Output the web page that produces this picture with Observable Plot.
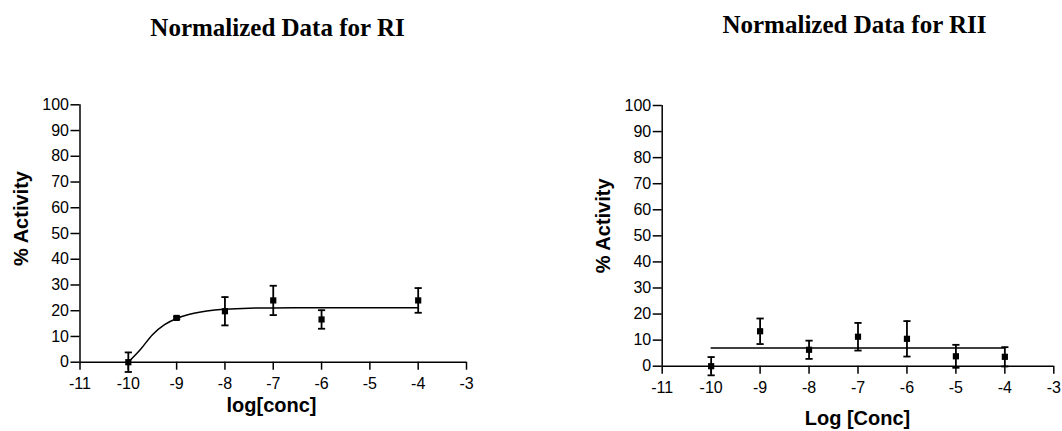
<!DOCTYPE html>
<html><head><meta charset="utf-8">
<script src="https://cdn.jsdelivr.net/npm/d3@7"></script>
<script src="https://cdn.jsdelivr.net/npm/@observablehq/plot@0.6"></script>
<style>
body{margin:0;background:#fff;}
#wrap{position:relative;width:1062px;height:431px;background:#fff;}
#wrap svg{position:absolute;top:0;}
</style></head><body><div id="wrap"></div>
<script>
// ---- data ----
const xTicks = [-11, -10, -9, -8, -7, -6, -5, -4, -3];
const yTicks = [0, 10, 20, 30, 40, 50, 60, 70, 80, 90, 100];

const concRI = [-10, -9, -8, -7, -6, -4];
const actRI  = [0, 17.2, 19.8, 24.0, 16.6, 24.0];
const errRI  = [3.8, 0.5, 5.5, 5.7, 3.6, 4.8];
const fitXRI = [-10, -9.75, -9.5, -9.25, -9, -8.75, -8.5, -8.25, -8, -7.5, -7, -6, -5, -4];
const fitYRI = [0, 4.9, 10.7, 14.6, 17.0, 18.5, 19.5, 20.2, 20.6, 21.0, 21.1, 21.2, 21.2, 21.2];

const concRII = [-10, -9, -8, -7, -6, -5, -4];
const actRII  = [0, 13.4, 6.3, 11.3, 10.5, 3.8, 3.6];
const errRII  = [3.5, 4.9, 3.5, 5.3, 6.8, 4.4, 3.7];
const fitXRII = [-10, -4];
const fitYRII = [7.0, 7.0];

const titles = ["Normalized Data for RI", "Normalized Data for RII"];
const xLabels = ["log[conc]", "Log [Conc]"];
const yLabel = "% Activity";

// horizontal cap symbol for error bars
const capSymbol = {draw(ctx, size) { const w = Math.sqrt(size / Math.PI); ctx.moveTo(-w, 0); ctx.lineTo(w, 0); }};

function panel(o) {
  const pts = o.conc.map((c, i) => ({x: c, y: o.act[i], lo: o.act[i] - o.err[i], hi: o.act[i] + o.err[i]}));
  const fit = o.fitX.map((x, i) => ({x, y: o.fitY[i]}));
  const svg = Plot.plot({
    width: 531, height: 431,
    marginLeft: o.ml, marginRight: o.mr, marginTop: o.mt, marginBottom: o.mb,
    style: {fontFamily: "'Liberation Sans', Arial, sans-serif", fontSize: "16px", color: "black", background: "transparent", overflow: "visible"},
    x: {domain: [-11, -3]},
    y: {domain: [0, 100]},
    marks: [
      Plot.axisX({ticks: xTicks, tickSize: 8, tickPadding: 7, tickFormat: d => `${d}`, label: null, strokeWidth: 1.5, fontSize: 16}),
      Plot.axisY({ticks: yTicks, tickSize: 9, tickPadding: 2, tickFormat: d => `${d}`, label: null, strokeWidth: 1.5, fontSize: 16}),
      Plot.ruleY([0], {stroke: "black", strokeWidth: 1.5}),
      Plot.ruleX([-11], {stroke: "black", strokeWidth: 1.5}),
      Plot.line(fit, {x: "x", y: "y", curve: "monotone-x", stroke: "black", strokeWidth: 1.5}),
      Plot.ruleX(pts, {x: "x", y1: "lo", y2: "hi", stroke: "black", strokeWidth: 1.8}),
      Plot.dot(pts, {x: "x", y: "lo", symbol: capSymbol, r: 3.6, stroke: "black", strokeWidth: 1.8, fill: "none"}),
      Plot.dot(pts, {x: "x", y: "hi", symbol: capSymbol, r: 3.6, stroke: "black", strokeWidth: 1.8, fill: "none"}),
      Plot.dot(pts, {x: "x", y: "y", symbol: "square", r: 3.5, fill: "black", stroke: "none"}),
      Plot.text([o.title], {text: d => d, frameAnchor: "top", dx: o.tdx, dy: o.tdy, lineAnchor: "bottom", textAnchor: "middle",
        fontFamily: "'Liberation Serif', 'Times New Roman', serif", fontWeight: "bold", fontSize: 25, fill: "black"}),
      Plot.text([o.xLabel], {text: d => d, frameAnchor: "bottom", dx: o.xdx, dy: o.xdy, lineAnchor: "bottom", textAnchor: "middle",
        fontWeight: "bold", fontSize: 20, fill: "black"}),
      Plot.text([yLabel], {text: d => d, frameAnchor: "left", dx: o.ydx, dy: o.ydy, rotate: -90, lineAnchor: "bottom", textAnchor: "middle",
        fontWeight: "bold", fontSize: 20, fill: "black"})
    ]
  });
  svg.style.left = o.left + "px";
  return svg;
}

const wrap = document.getElementById("wrap");
wrap.appendChild(panel({
  left: 0, ml: 79.5, mr: 65, mt: 104.3, mb: 69.3,
  conc: concRI, act: actRI, err: errRI, fitX: fitXRI, fitY: fitYRI,
  title: titles[0], xLabel: xLabels[0],
  tdx: 4.25, tdy: -69.3, xdx: -1.75, xdy: 50, ydx: -52.5, ydy: -15
}));
wrap.appendChild(panel({
  left: 531, ml: 130.7, mr: 8.7, mt: 105, mb: 65.3,
  conc: concRII, act: actRII, err: errRII, fitX: fitXRII, fitY: fitYRII,
  title: titles[1], xLabel: xLabels[1],
  tdx: -3.5, tdy: -72.7, xdx: -0.5, xdy: 58.3, ydx: -52, ydy: -10
}));
</script>
</body></html>
